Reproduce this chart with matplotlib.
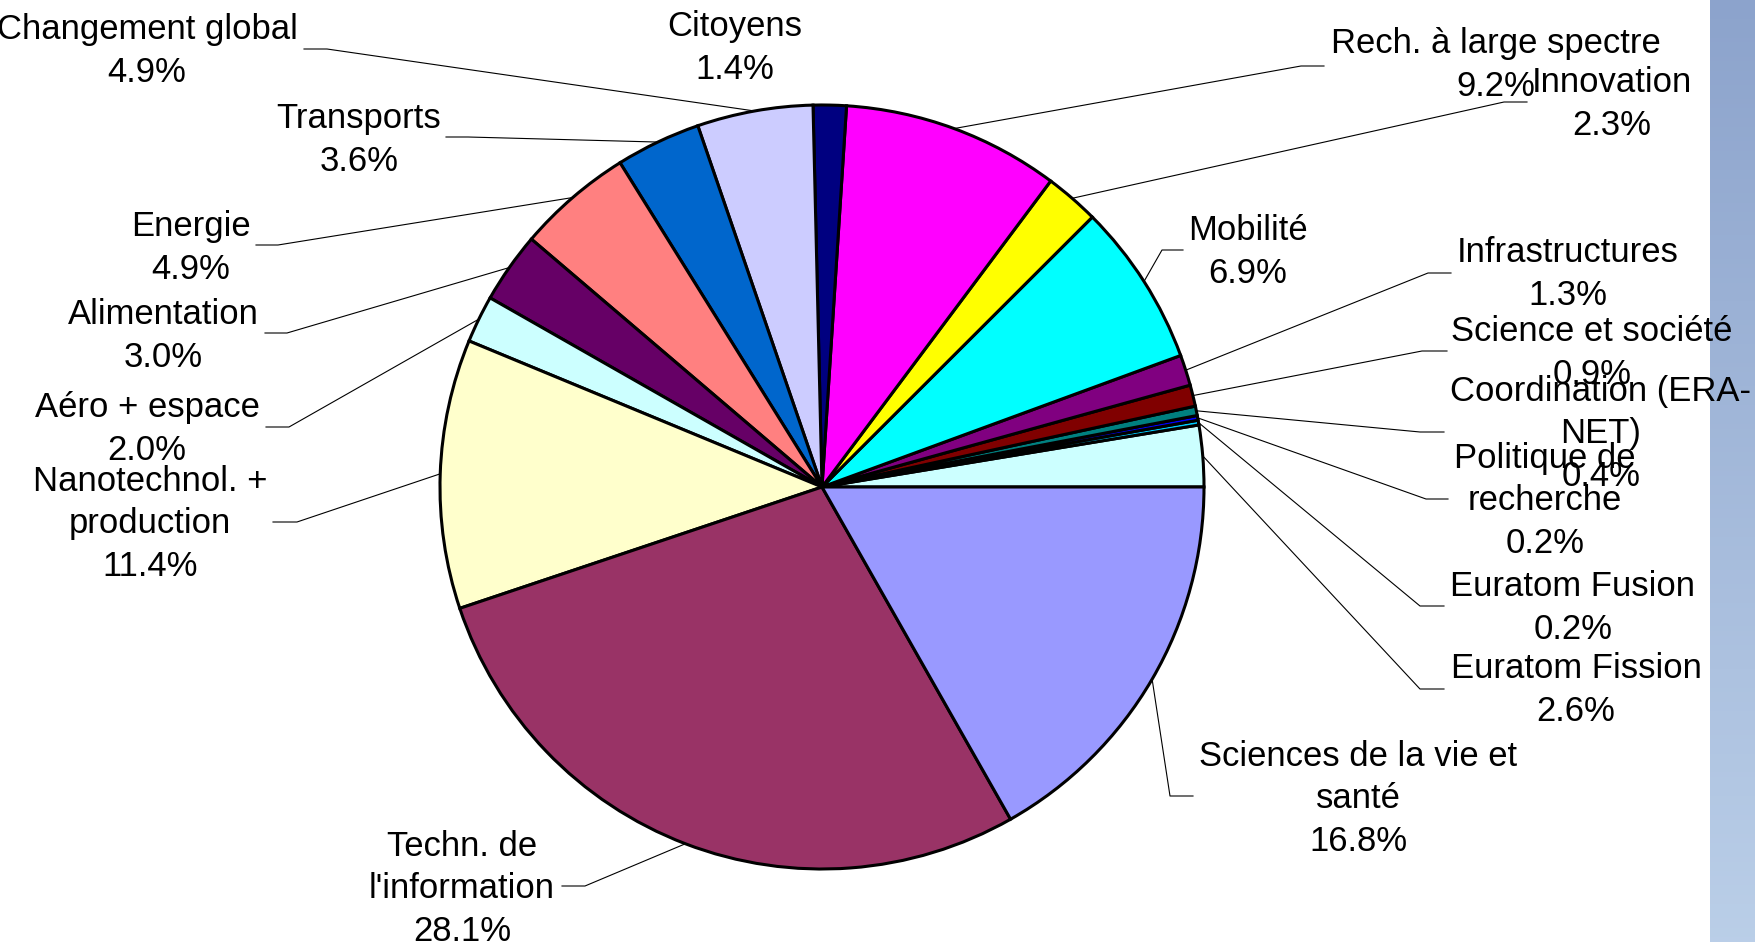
import numpy as np
import matplotlib
matplotlib.use('Agg')
import matplotlib.pyplot as plt

plt.rcParams['font.family'] = ['Liberation Sans', 'DejaVu Sans']

# themes in drawing order, counterclockwise from 3 o'clock
themes = ['Euratom Fission', 'Euratom Fusion', 'Politique de\nrecherche',
          'Coordination (ERA-\nNET)', 'Science et société', 'Infrastructures',
          'Mobilité', 'Innovation', 'Rech. à large spectre', 'Citoyens',
          'Changement global', 'Transports', 'Energie', 'Alimentation',
          'Aéro + espace', 'Nanotechnol. +\nproduction', 'Techn. de\nl\'information',
          'Sciences de la vie et\nsanté']
shares = [2.6, 0.2, 0.2, 0.4, 0.9, 1.3, 6.9, 2.3, 9.2, 1.4,
          4.9, 3.6, 4.9, 3.0, 2.0, 11.4, 28.1, 16.8]
colors = ['#CCFFFF', '#00CCFF', '#0000FF', '#008080', '#800000', '#800080',
          '#00FFFF', '#FFFF00', '#FF00FF', '#000080', '#CCCCFF', '#0066CC',
          '#FF8080', '#660066', '#CCFFFF', '#FFFFCC', '#993366', '#9999FF']

# label layout in pixels: text centre, leader elbow x, leader end x, leader y
label_pos = [(1576, 690), (1573, 608), (1545, 501), (1601, 434), (1592, 353),
             (1568, 274), (1248, 252), (1612, 104), (1496, 65), (735, 48),
             (147, 51), (359, 140), (191, 248), (163, 336), (147, 429),
             (150, 524), (462, 889), (1358, 799)]
leaders = [(1420, 1444, 689), (1420, 1444, 606), (1426, 1448, 499),
           (1420, 1444, 432), (1422, 1447, 351), (1428, 1451, 273),
           (1162, 1183, 250), (1504, 1527, 102), (1301, 1324, 66), None,
           (327, 304, 49), (468, 446, 137), (278, 256, 245), (287, 265, 333),
           (289, 266, 427), (297, 273, 522), (585, 562, 886), (1170, 1193, 796)]

W, H = 1756, 942
cx, cy, r = 822, 487, 382

fig = plt.figure(figsize=(W / 100, H / 100), dpi=100)
ax = fig.add_axes([0, 0, 1, 1])

# blue decorative strip at the right edge
grad = np.linspace(0, 1, 200).reshape(-1, 1)
strip = np.dstack([0.55 + 0.18 * grad, 0.64 + 0.17 * grad, 0.80 + 0.11 * grad])
ax.imshow(strip, extent=[1710, W, H, 0], aspect='auto', zorder=0)

ax.pie(shares, colors=colors, startangle=0, counterclock=False,
       center=(cx, cy), radius=r,
       wedgeprops=dict(edgecolor='black', linewidth=2.2))

total = sum(shares)
cum = 0
for name, val, (tx, ty), ld in zip(themes, shares, label_pos, leaders):
    mid = -(cum + val / 2) / total * 2 * np.pi
    cum += val
    ax.text(tx, ty, f'{name}\n{val:.1f}%', ha='center', va='center',
            fontsize=24.9, linespacing=1.37, zorder=5)
    if ld is None:
        continue
    ex, hx, hy = ld
    px, py = cx + r * np.cos(mid), cy + r * np.sin(mid)
    ax.plot([px, ex, hx], [py, hy, hy], color='black', linewidth=0.8, zorder=4)

ax.set_xlim(0, W)
ax.set_ylim(H, 0)
ax.set_aspect('equal')
ax.axis('off')

fig.savefig('out.png', dpi=100)
